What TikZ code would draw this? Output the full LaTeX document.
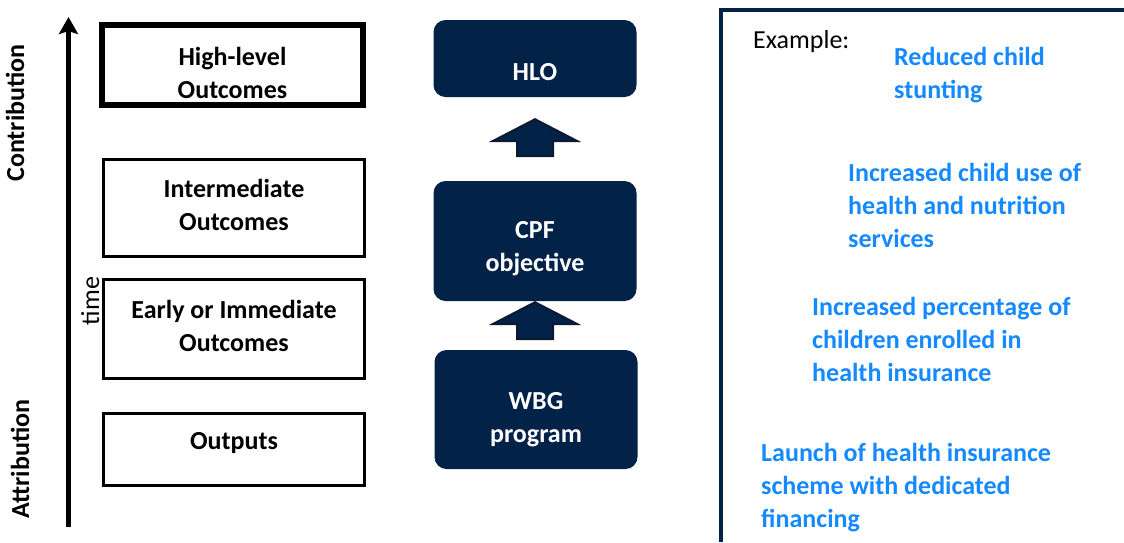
\documentclass[tikz,border=0pt]{standalone}
\usepackage{fontspec}
\setmainfont{Carlito}
\usepackage{tikz}
\usetikzlibrary{positioning, arrows.meta, calc}

\definecolor{wbnavy}{HTML}{022247}
\definecolor{wbedge}{HTML}{0B1A32}
\definecolor{exblue}{HTML}{1589FF}

\def\boxfont{\bfseries\fontsize{26}{33}\selectfont}

\tikzset{
    lvlbox/.style={draw=black, line width=3.5pt, minimum width=261pt,
        inner sep=0pt, align=center, font=\boxfont},
    navybox/.style={fill=wbnavy, rounded corners=12pt, minimum width=203pt,
        inner sep=0pt, align=center, text=white, font=\boxfont},
    exmpl/.style={anchor=base west, inner sep=0pt, align=left,
        text=exblue, font=\boxfont},
    sidelabel/.style={rotate=90, inner sep=0pt, font=\boxfont},
    blockup/.style={fill=wbnavy, draw=wbedge, line width=2pt},
}

% block arrow pointing up, tip at #1
\def\blockarrow#1{%
    \draw[blockup]
        ($(#1)$) -- ++(42.5,22) -- ++(-24.5,0) -- ++(0,15)
        -- ++(-36,0) -- ++(0,-15) -- ++(-24.5,0) -- cycle;
}

\begin{document}
\begin{tikzpicture}[x=1pt, y=-1pt]
    \useasboundingbox (0,0) rectangle (1124,542);

    % time axis
    \coordinate (axbot) at (68.5,527);
    \coordinate (axtop) at (68.5,17);
    \draw[line width=5pt, -{Stealth[length=17pt, width=19pt, inset=3pt]}]
        (axbot) -- (axtop);
    \node[sidelabel, anchor=base] (contrib) at (24,113) {Contribution};
    \node[sidelabel, anchor=base] (attrib) at (29,459) {Attribution};
    \node[sidelabel, anchor=base, font=\fontsize{26}{33}\selectfont]
        (time) at (99,301) {time};

    % result levels
    \node[lvlbox, line width=6pt, minimum height=80pt, text height=66pt, text depth=0pt]
        (hl) at (232.5,65) {High-level\\Outcomes};
    \foreach \name/\cy/\boxh/\txth/\txt in {
        inter/208/97/44/{Intermediate\\Outcomes},
        early/329/99/44/{Early or Immediate\\Outcomes}}{
        \node[lvlbox, minimum height=\boxh pt, text height=\txth pt, text depth=0pt]
            (\name) at (234,\cy) {\txt};
    }
    \node[lvlbox, minimum height=72pt, text height=6pt, text depth=6pt]
        (outp) at (234,449.5) {Outputs};

    % results chain
    \node[navybox, minimum height=77pt, text height=45pt] (hlo) at (535,58.5) {HLO};
    \node[navybox, minimum height=120pt, text height=60pt, text depth=0pt]
        (cpf) at (535,241) {CPF\\objective};
    \node[navybox, minimum height=119pt, text height=65pt, text depth=0pt]
        (wbg) at (536,409.5) {WBG\\program};

    \coordinate (up1) at ([yshift=-22pt]hlo.south);
    \coordinate (up2) at ([yshift=-1pt]cpf.south);
    \blockarrow{up1}
    \blockarrow{up2}

    % example panel
    \draw[wbnavy, line width=4pt] (720.5,542) -- (720.5,9.5) -- (1124,9.5);
    \node[anchor=base west, inner sep=0pt, font=\fontsize{26}{33}\selectfont]
        (exlbl) at (753,48) {Example:};
    \node[exmpl] (ex1) at (894,98) {Reduced child\\stunting};
    \node[exmpl] (ex2) at (848,247) {Increased child use of\\health and nutrition\\services};
    \node[exmpl] (ex3) at (812,381) {Increased percentage of\\children enrolled in\\health insurance};
    \node[exmpl] (ex4) at (761,527) {Launch of health insurance\\scheme with dedicated\\financing};
\end{tikzpicture}
\end{document}
